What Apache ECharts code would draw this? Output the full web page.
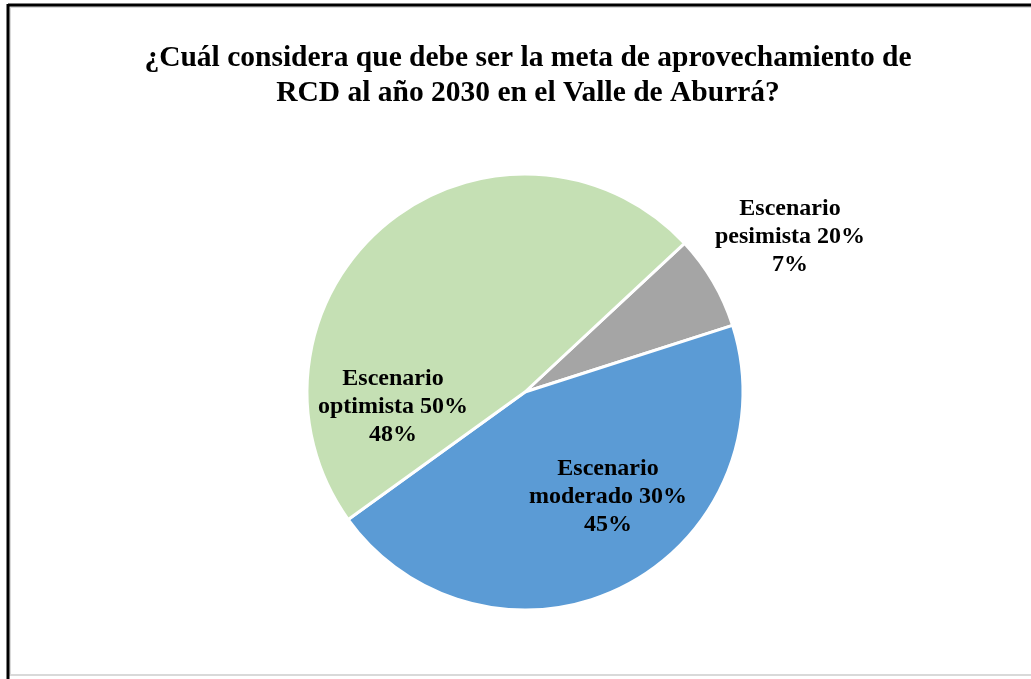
<!DOCTYPE html>
<html>
<head>
<meta charset="utf-8">
<script src="https://cdn.jsdelivr.net/npm/echarts@6/dist/echarts.min.js"></script>
<style>
    html, body { margin: 0; padding: 0; background: #fff; }
    #chart { width: 1031px; height: 679px; }
</style>
</head>
<body>
<div id="chart"></div>
<script>
    // datos
    var categorias = ['Escenario pesimista 20%', 'Escenario moderado 30%', 'Escenario optimista 50%'];
    var valores = [7, 45, 48];
    var colores = ['#A5A5A5', '#5B9BD5', '#C5E0B4'];

    // posicion de cada etiqueta (centro del texto, en px)
    var posEtiquetas = [[790, 237], [608, 497], [393, 407]];

    var datos = categorias.map(function (nombre, i) {
        return {
            name: nombre,
            value: valores[i],
            itemStyle: {color: colores[i]}
        };
    });

    var myChart = echarts.init(document.getElementById('chart'));
    var option = {
        animation: false,
        backgroundColor: '#fff',
        title: {
            text: '¿Cuál considera que debe ser la meta de aprovechamiento de\nRCD al año 2030 en el Valle de Aburrá?',
            left: 523,
            textAlign: 'center',
            top: 36,
            textStyle: {
                fontFamily: 'Liberation Serif',
                fontWeight: 'bold',
                fontSize: 29.5,
                lineHeight: 35,
                color: '#000'
            }
        },
        series: [{
            type: 'pie',
            center: [525, 392],
            radius: 218,
            startAngle: 43,
            clockwise: true,
            data: datos,
            itemStyle: {
                borderColor: '#fff',
                borderWidth: 3
            },
            label: {
                show: true,
                position: 'inside',
                fontFamily: 'Liberation Serif',
                fontWeight: 'bold',
                fontSize: 24,
                lineHeight: 28,
                color: '#000',
                align: 'center',
                formatter: function (p) {
                    return p.name.replace(' ', '\n') + '\n' + p.value + '%';
                }
            },
            labelLine: {show: false},
            labelLayout: function (params) {
                var p = posEtiquetas[params.dataIndex];
                return {
                    x: p[0],
                    y: p[1],
                    align: 'center',
                    verticalAlign: 'middle'
                };
            }
        }],
        graphic: [
            // marco del grafico
            {type: 'rect', shape: {x: 10, y: 7, width: 1030, height: 668}, style: {fill: null, stroke: '#d9d9d9', lineWidth: 2}},
            {type: 'line', shape: {x1: 8, y1: 5, x2: 1031, y2: 5}, style: {stroke: '#000', lineWidth: 3}},
            {type: 'line', shape: {x1: 8, y1: 4, x2: 8, y2: 679}, style: {stroke: '#000', lineWidth: 3}}
        ]
    };
    myChart.setOption(option);
</script>
</body>
</html>
